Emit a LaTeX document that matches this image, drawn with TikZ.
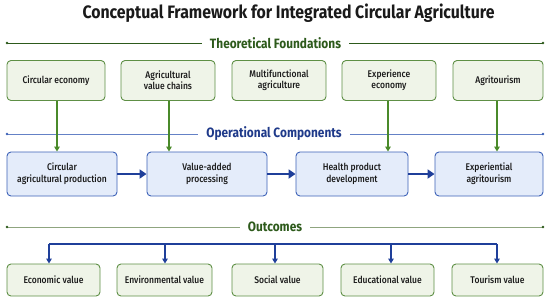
\documentclass[tikz,border=0pt]{standalone}
\usepackage{fontspec}
\setmainfont{Fira Sans}[FakeStretch=0.88]
\newfontfamily\medfont{Fira Sans Medium}[FakeStretch=0.88]
\usetikzlibrary{arrows.meta}
\definecolor{gfill}{HTML}{EFF4E8}
\definecolor{gdraw}{HTML}{5E8F45}
\definecolor{garrow}{HTML}{4A8A2A}
\definecolor{gtext}{HTML}{2D5A1B}
\definecolor{bfill}{HTML}{E4ECFA}
\definecolor{bdraw}{HTML}{3D62B8}
\definecolor{barrow}{HTML}{1F3F9A}
\definecolor{btext}{HTML}{1F3A8A}
\definecolor{oline}{HTML}{8FA57F}
\definecolor{txt}{HTML}{1A1A1A}
\begin{document}
\begin{tikzpicture}[x=1pt,y=-1pt,
  gbox/.style={draw=gdraw,fill=gfill,line width=0.9pt,rounded corners=4pt,inner sep=0pt,align=center,text=txt,font=\medfont\fontsize{9.7}{11}\selectfont},
  bbox/.style={draw=bdraw,fill=bfill,line width=0.9pt,rounded corners=4pt,inner sep=0pt,align=center,text=txt,font=\medfont\fontsize{9.7}{12}\selectfont},
  head/.style={font=\bfseries\fontsize{13.5}{15}\selectfont,inner sep=0pt},
  garr/.style={draw=garrow,line width=1.2pt,-{Triangle[length=5pt,width=5.5pt]}},
  barr/.style={draw=barrow,line width=2pt,-{Triangle[length=7pt,width=9pt]}},
  barr2/.style={draw=barrow,line width=1.2pt,-{Triangle[length=5pt,width=5.5pt]}}
]
\useasboundingbox (0,0) rectangle (550,301);
\fill[white] (0,0) rectangle (550,301);
% title
\node[font=\bfseries\fontsize{18}{20}\selectfont,text=txt] (title) at (288.5,13) {Conceptual Framework for Integrated Circular Agriculture};
% Theoretical foundations header
\node[head,text=gtext] (th) at (275.5,43) {Theoretical Foundations};
\coordinate (thL) at (7,43); \coordinate (thR) at (543,43);
\draw[gtext,line width=0.8pt] (thL) -- ([xshift=-8pt]th.west);
\draw[gtext,line width=0.8pt] ([xshift=8pt]th.east) -- (thR);
\fill[gtext] (thL) circle (1.4pt) (thR) circle (1.4pt);
% top boxes
\node[gbox,minimum width=98pt,minimum height=40pt] (t1) at (56,80.5) {Circular economy};
\node[gbox,minimum width=94pt,minimum height=40pt] (t2) at (168,80.5) {Agricultural\\value chains};
\node[gbox,minimum width=94pt,minimum height=40pt] (t3) at (279,80.5) {Multifunctional\\agriculture};
\node[gbox,minimum width=94pt,minimum height=40pt] (t4) at (389,80.5) {Experience\\economy};
\node[gbox,minimum width=90pt,minimum height=40pt] (t5) at (498,80.5) {Agritourism};
% Operational header
\node[head,text=btext] (op) at (274,134) {Operational Components};
\coordinate (opL) at (7,134); \coordinate (opR) at (543,134);
\draw[bdraw!80,line width=0.8pt] (opL) -- ([xshift=-8pt]op.west);
\draw[bdraw!80,line width=0.8pt] ([xshift=8pt]op.east) -- (opR);
\fill[bdraw] (opL) circle (1.4pt) (opR) circle (1.4pt);
% middle boxes
\node[bbox,minimum width=110pt,minimum height=44pt] (m1) at (62,174) {Circular\\agricultural production};
\node[bbox,minimum width=120pt,minimum height=44pt] (m2) at (207,174) {Value-added\\processing};
\node[bbox,minimum width=112pt,minimum height=44pt] (m3) at (352,174) {Health product\\development};
\node[bbox,minimum width=108pt,minimum height=44pt] (m4) at (489,174) {Experiential\\agritourism};
% green down arrows
\draw[garr] (t1.south -| 57,0) -- (m1.north -| 57,0);
\draw[garr] (t2.south -| 169,0) -- (m2.north -| 169,0);
\draw[garr] (t4.south -| 388,0) -- (m3.north -| 388,0);
\draw[garr] (t5.south -| 497,0) -- (m4.north -| 497,0);
% blue flow arrows
\draw[barr] (m1) -- (m2);
\draw[barr] (m2) -- (m3);
\draw[barr] (m3) -- (m4);
% Outcomes header
\node[head,text=gtext] (oc) at (275,227) {Outcomes};
\coordinate (ocL) at (7,227); \coordinate (ocR) at (543,227);
\draw[oline,line width=1pt] (ocL) -- ([xshift=-8pt]oc.west);
\draw[oline,line width=1pt] ([xshift=8pt]oc.east) -- (ocR);
\fill[gtext] (ocL) circle (1.4pt) (ocR) circle (1.4pt);
% bottom boxes
\node[gbox,minimum width=93pt,minimum height=32pt] (b1) at (53.5,280) {Economic value};
\node[gbox,minimum width=95pt,minimum height=32pt] (b2) at (164.5,280) {Environmental value};
\node[gbox,minimum width=91pt,minimum height=32pt] (b3) at (277.5,280) {Social value};
\node[gbox,minimum width=93pt,minimum height=32pt] (b4) at (387.5,280) {Educational value};
\node[gbox,minimum width=91pt,minimum height=32pt] (b5) at (497.5,280) {Tourism value};
% bus
\coordinate (busL) at (49,244); \coordinate (busR) at (497,244);
\draw[barrow,line width=1.2pt] (busL) -- (busR);
\draw[barr2] (busL) -- (b1.north -| busL);
\draw[barr2] (165,244) -- (b2.north -| 165,0);
\draw[barr2] (275,244) -- (b3.north -| 275,0);
\draw[barr2] (391,244) -- (b4.north -| 391,0);
\draw[barr2] (busR) -- (b5.north -| busR);
\end{tikzpicture}
\end{document}
